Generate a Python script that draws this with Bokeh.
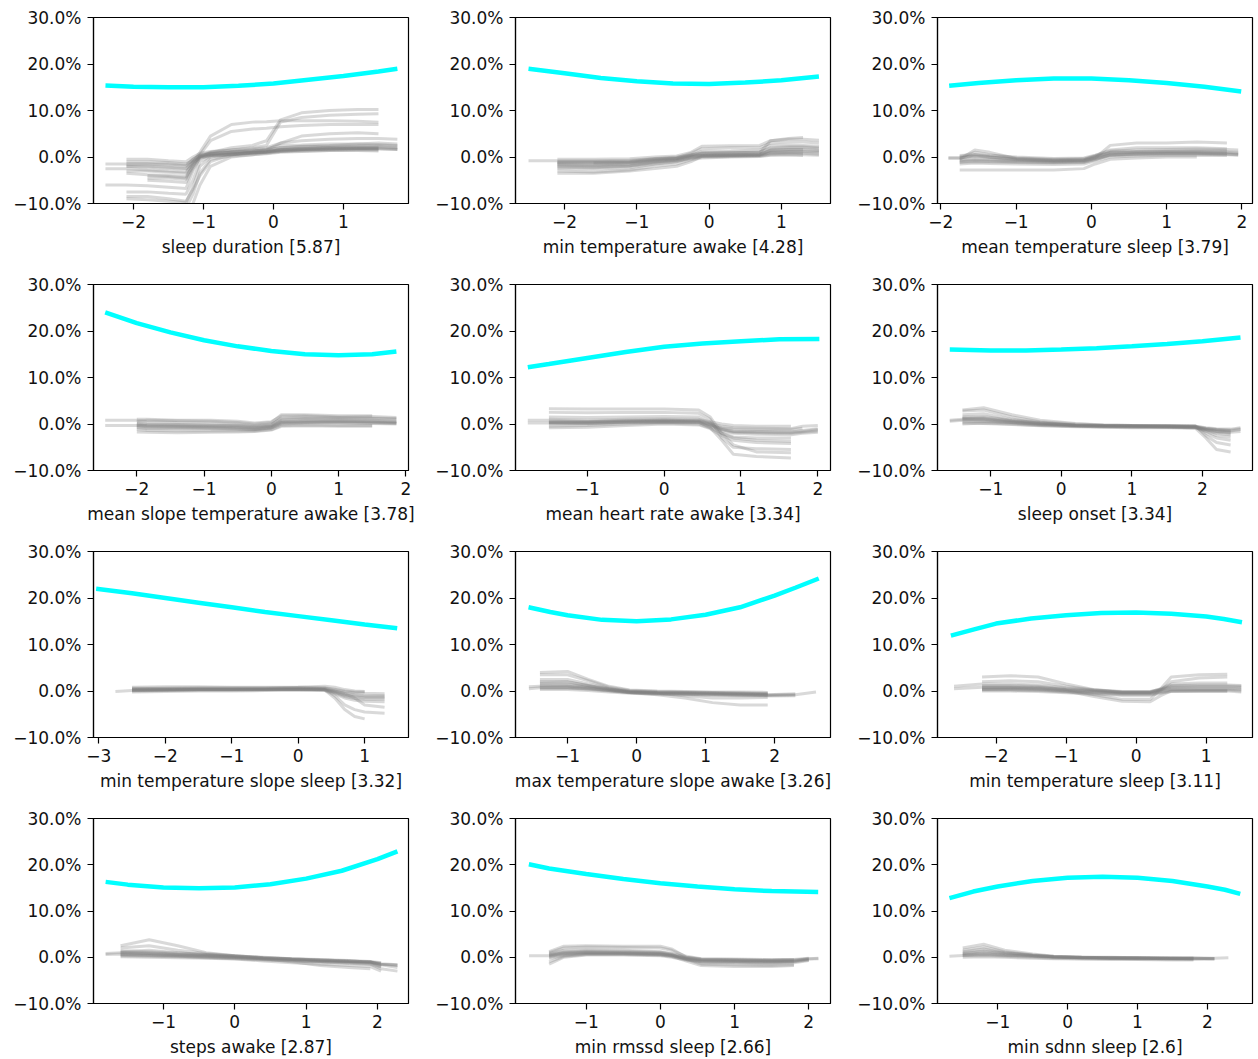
import numpy as np
from bokeh.plotting import figure
from bokeh.layouts import gridplot
from bokeh.models import Range1d, FixedTicker, CustomJSTickFormatter
from bokeh.embed import file_html
from bokeh.resources import INLINE

nan = float("nan")

# ---------------- data ----------------
FEATURES = ["sleep duration", "min temperature awake", "mean temperature sleep",
            "mean slope temperature awake", "mean heart rate awake", "sleep onset",
            "min temperature slope sleep", "max temperature slope awake", "min temperature sleep",
            "steps awake", "min rmssd sleep", "min sdnn sleep"]
IMPORTANCE = ["5.87", "4.28", "3.79", "3.78", "3.34", "3.34",
              "3.32", "3.26", "3.11", "2.87", "2.66", "2.6"]

# cyan curves (percent)
CYAN_X = [
    [-2.4, -2.0, -1.5, -1.0, -0.5, 0.0, 0.5, 1.0, 1.5, 1.77],
    [-2.5, -2.0, -1.5, -1.0, -0.5, 0.0, 0.5, 1.0, 1.52],
    [-1.89, -1.5, -1.0, -0.5, 0.0, 0.5, 1.0, 1.5, 1.99],
    [-2.47, -2.0, -1.5, -1.0, -0.5, 0.0, 0.5, 1.0, 1.5, 1.86],
    [-1.775, -1.5, -1.0, -0.5, 0.0, 0.5, 1.0, 1.5, 2.02],
    [-1.58, -1.0, -0.5, 0.0, 0.5, 1.0, 1.5, 2.0, 2.54],
    [-3.04, -2.5, -2.0, -1.5, -1.0, -0.5, 0.0, 0.5, 1.0, 1.49],
    [-1.565, -1.25, -1.0, -0.5, 0.0, 0.5, 1.0, 1.5, 2.0, 2.3, 2.64],
    [-2.645, -2.3, -2.0, -1.5, -1.0, -0.5, 0.0, 0.5, 1.0, 1.25, 1.51],
    [-1.81, -1.5, -1.0, -0.5, 0.0, 0.5, 1.0, 1.5, 2.0, 2.28],
    [-1.773, -1.5, -1.0, -0.5, 0.0, 0.5, 1.0, 1.5, 2.127],
    [-1.69, -1.35, -1.0, -0.5, 0.0, 0.5, 1.0, 1.5, 2.0, 2.25, 2.47],
]
CYAN_Y = [
    [15.4, 15.1, 15.0, 15.0, 15.3, 15.8, 16.6, 17.4, 18.4, 19.0],
    [19.0, 18.0, 17.0, 16.3, 15.8, 15.7, 16.0, 16.5, 17.3],
    [15.3, 15.9, 16.5, 16.9, 16.9, 16.5, 15.9, 15.1, 14.1],
    [24.0, 21.7, 19.7, 18.0, 16.7, 15.7, 15.0, 14.8, 15.0, 15.6],
    [12.2, 12.9, 14.2, 15.5, 16.6, 17.3, 17.8, 18.2, 18.3],
    [16.0, 15.8, 15.8, 16.0, 16.3, 16.7, 17.2, 17.8, 18.6],
    [22.0, 21.0, 20.0, 19.0, 18.0, 17.0, 16.1, 15.2, 14.3, 13.5],
    [18.0, 17.0, 16.3, 15.3, 15.0, 15.4, 16.4, 18.0, 20.5, 22.2, 24.2],
    [11.9, 13.3, 14.5, 15.6, 16.3, 16.8, 16.9, 16.6, 16.0, 15.5, 14.8],
    [16.3, 15.7, 15.1, 14.9, 15.1, 15.8, 17.0, 18.7, 21.2, 22.9],
    [20.1, 19.2, 18.0, 16.9, 16.0, 15.3, 14.7, 14.3, 14.1],
    [12.8, 14.2, 15.3, 16.5, 17.2, 17.4, 17.2, 16.5, 15.3, 14.6, 13.7],
]

# gray individual curves (percent); nan = line not present there
ICE_X = [
    [-2.4, -2.1, -1.8, -1.5, -1.25, -1.15, -1.05, -0.9, -0.6, -0.3, -0.1, 0.1, 0.4, 0.8, 1.2, 1.5, 1.77],
    [-2.5, -2.1, -1.6, -1.1, -0.75, -0.45, -0.25, -0.1, 0.3, 0.7, 0.85, 1.1, 1.3, 1.52],
    [-1.9, -1.75, -1.55, -1.35, -1.0, -0.5, -0.1, 0.05, 0.25, 0.6, 1.0, 1.4, 1.8, 1.95],
    [-2.47, -2.0, -1.85, -1.4, -0.9, -0.5, -0.25, 0.0, 0.15, 0.5, 1.0, 1.5, 1.86],
    [-1.775, -1.5, -1.0, -0.5, 0.0, 0.45, 0.6, 0.75, 0.9, 1.2, 1.65, 1.8, 2.0],
    [-1.58, -1.4, -1.1, -0.7, -0.3, 0.2, 0.6, 1.0, 1.5, 1.9, 2.05, 2.2, 2.4, 2.54],
    [-2.75, -2.5, -2.0, -1.5, -1.0, -0.5, 0.0, 0.4, 0.55, 0.7, 0.85, 1.0, 1.3],
    [-1.56, -1.4, -1.0, -0.7, -0.4, -0.1, 0.3, 0.7, 1.1, 1.5, 1.9, 2.3, 2.6],
    [-2.6, -2.2, -1.8, -1.4, -1.0, -0.6, -0.2, 0.2, 0.35, 0.5, 0.9, 1.3, 1.5],
    [-1.81, -1.6, -1.2, -0.8, -0.4, 0.0, 0.4, 0.8, 1.2, 1.6, 1.9, 2.05, 2.28],
    [-1.77, -1.5, -1.3, -1.0, -0.5, 0.0, 0.15, 0.35, 0.55, 1.0, 1.5, 1.8, 2.0, 2.13],
    [-1.69, -1.5, -1.2, -0.9, -0.5, -0.2, 0.2, 0.6, 1.0, 1.5, 1.8, 2.1, 2.3],
]
ICE_Y = [
    [  # sleep duration
        [nan, -1.0, -1.0, -1.2, -1.5, -0.8, 0.0, 0.5, 0.8, 1.0, 1.2, 1.5, 1.6, 1.7, 1.8, 1.8, 1.6],
        [nan, -2.0, -2.2, -2.4, -2.6, -1.2, -0.2, 0.3, 0.6, 0.9, 1.0, 1.3, 1.5, 1.6, 1.7, 1.7, nan],
        [-2.5, -2.5, -2.8, -3.0, -3.2, -1.5, 0.0, 0.6, 1.0, 1.3, 1.5, 2.0, 2.2, 2.3, 2.4, 2.5, 2.3],
        [nan, -3.5, -3.8, -4.0, -4.2, -2.0, 0.2, 0.8, 1.2, 1.5, 1.8, 2.5, 2.6, 2.8, 2.8, 2.7, 2.5],
        [nan, nan, -5.0, -5.2, -5.5, -2.5, -0.3, 0.3, 0.5, 0.8, 1.0, 1.2, 1.3, 1.4, 1.4, 1.3, nan],
        [-6.0, -6.0, -6.2, -6.5, -6.8, -3.0, 0.0, 0.4, 0.7, 0.9, 1.1, 1.6, 1.8, 2.0, 2.0, 2.0, 1.8],
        [nan, -7.5, -7.5, -7.8, -8.0, -5.0, -1.0, 0.2, 0.5, 0.8, 1.0, 1.4, 1.6, 1.8, 1.9, 1.9, nan],
        [nan, -9.0, -9.2, -9.5, -9.8, -6.5, -2.0, 0.0, 0.6, 1.0, 1.3, 1.7, 1.9, 2.1, 2.2, 2.2, 2.0],
        [nan, nan, -10.5, -11.0, -11.0, -8.0, -3.5, -0.5, 0.2, 0.5, 0.7, 1.0, 1.2, 1.4, 1.5, 1.5, nan],
        [-1.5, -1.5, -1.5, -1.8, -2.0, -0.5, 0.5, 3.5, 5.5, 6.0, 6.2, 6.5, 6.8, 7.0, 7.0, 7.0, nan],
        [nan, -3.0, -3.0, -3.3, -3.5, -1.0, 1.0, 4.5, 7.0, 7.5, 7.6, 7.8, 7.8, 7.8, 7.7, 7.5, nan],
        [nan, -2.0, -2.0, -2.2, -2.5, -1.0, 0.5, 1.0, 1.5, 2.0, 2.5, 7.5, 8.5, 9.0, 9.2, 9.3, nan],
        [nan, nan, -4.5, -4.5, -4.8, -2.0, 0.0, 1.0, 2.0, 2.5, 3.5, 8.0, 9.5, 10.0, 10.2, 10.2, nan],
        [nan, -0.5, -0.5, -0.8, -1.0, 0.0, 0.8, 1.2, 1.5, 1.8, 2.0, 3.0, 3.5, 3.8, 4.0, 4.0, 3.8],
        [nan, nan, -4.0, -4.2, -4.5, -1.5, 0.2, 0.7, 1.0, 1.2, 1.5, 3.0, 4.5, 5.0, 5.2, 5.0, nan],
        [nan, -8.5, -8.5, -9.0, -9.5, -7.0, -4.0, -1.0, 0.5, 1.0, 1.2, 1.5, 1.8, 2.0, 2.0, 2.0, nan],
        [nan, nan, -12.0, -12.0, -12.0, -10.0, -6.0, -2.0, 0.0, 0.5, 0.8, 1.2, 1.5, 1.7, 1.8, 1.8, 1.6],
        [nan, -1.5, -1.5, -1.5, -1.8, -0.5, 0.3, 0.7, 1.0, 1.3, 1.5, 2.0, 2.3, 2.5, 2.8, 3.0, 2.8],
    ],
    [  # min temperature awake
        [-0.8, -0.8, -0.8, -0.7, -0.3, 0.0, 0.5, 0.8, 0.9, 1.0, 1.8, 2.0, 2.0, 1.8],
        [nan, -1.2, -1.2, -1.1, -0.6, -0.3, 0.2, 0.5, 0.6, 0.7, 1.2, 1.3, 1.3, 1.2],
        [nan, -1.6, -1.7, -1.5, -0.9, -0.6, 0.0, 0.3, 0.4, 0.5, 1.0, 1.1, 1.1, 1.0],
        [nan, -2.0, -2.1, -1.9, -1.2, -0.8, -0.2, 0.1, 0.2, 0.3, 0.7, 0.8, 0.8, 0.6],
        [nan, -2.5, -2.6, -2.3, -1.5, -1.0, -0.4, 0.0, 0.1, 0.2, 0.5, 0.6, 0.5, 0.4],
        [nan, -3.0, -3.2, -2.8, -2.0, -1.5, -0.6, -0.2, 0.0, 0.1, 0.4, 0.4, 0.3, nan],
        [nan, -3.5, -3.5, -3.0, -2.5, -2.0, -1.0, 0.2, 0.3, 0.4, 1.5, 1.6, 1.6, nan],
        [nan, -1.0, -1.0, -0.9, -0.4, -0.2, 0.8, 1.8, 2.0, 2.0, 3.0, 3.2, 3.2, 3.0],
        [nan, -1.4, -1.5, -1.3, -0.8, -0.4, 0.4, 1.2, 1.3, 1.5, 2.5, 2.6, 2.5, 2.3],
        [nan, nan, -1.3, -1.2, -0.7, -0.4, 0.3, 0.7, 0.8, 0.9, 3.5, 4.0, 4.2, nan],
        [nan, -1.8, -1.9, -1.7, -1.0, -0.7, 0.1, 0.4, 0.5, 0.6, 1.4, 1.6, 1.6, 1.4],
        [nan, -2.2, -2.3, -2.0, -1.4, -0.9, -0.1, 0.2, 0.3, 0.4, 0.9, 1.0, 0.9, nan],
        [nan, -0.5, -0.5, -0.4, 0.0, 0.2, 1.0, 2.3, 2.4, 2.5, 3.5, 3.8, 3.8, 3.6],
        [nan, -1.1, -1.1, -1.0, -0.5, -0.2, 0.4, 0.9, 1.0, 1.1, 2.0, 2.2, 2.2, 2.0],
    ],
    [  # mean temperature sleep
        [-0.3, -0.3, 0.5, 0.0, -0.5, -0.8, -0.7, 0.0, 0.8, 1.0, 1.0, 1.1, 1.0, 0.8],
        [nan, -0.5, 1.5, 1.0, -0.3, -0.6, -0.5, 0.2, 1.0, 1.2, 1.3, 1.4, 1.3, nan],
        [nan, -1.0, -0.8, -0.9, -1.0, -1.2, -1.1, -0.5, 0.3, 0.5, 0.6, 0.6, 0.5, 0.4],
        [nan, -1.5, -1.3, -1.4, -1.5, -1.6, -1.5, -0.8, 0.0, 0.2, 0.3, 0.4, 0.3, nan],
        [nan, 0.3, 0.5, 0.3, 0.0, -0.3, -0.2, 0.4, 1.3, 1.5, 1.6, 1.7, 1.6, 1.5],
        [nan, -0.2, 0.2, -0.1, -0.6, -0.9, -0.8, -0.2, 0.6, 0.8, 0.9, 0.9, 0.8, nan],
        [nan, -2.8, -2.8, -2.8, -2.8, -2.8, -2.5, -1.5, -0.5, -0.2, 0.0, 0.0, nan, nan],
        [nan, -0.8, -0.6, -0.7, -0.9, -1.0, -0.9, -0.2, 2.5, 3.0, 3.0, 3.2, 3.0, nan],
        [nan, -1.2, -1.0, -1.1, -1.2, -1.3, -1.2, -0.6, 0.5, 0.7, 0.8, 0.8, 0.7, 0.6],
        [nan, 0.0, 1.0, 0.5, -0.2, -0.5, -0.4, 0.3, 1.5, 2.0, 2.0, 2.0, 1.8, nan],
        [nan, -0.6, -0.4, -0.5, -0.7, -0.9, -0.8, -0.3, 0.4, 0.6, 0.7, 0.7, 0.6, 0.5],
        [-0.1, -0.1, 0.2, 0.0, -0.4, -0.7, -0.6, 0.1, 1.0, 1.1, 1.2, 1.2, 1.1, 1.0],
    ],
    [  # mean slope temperature awake
        [0.8, 0.8, 0.5, 0.3, 0.2, 0.0, -0.3, 0.0, 1.0, 1.2, 1.2, 1.2, 1.0],
        [nan, 0.0, -0.3, -0.4, -0.5, -0.6, -0.8, -0.5, 0.5, 0.7, 0.7, 0.6, 0.5],
        [nan, -0.4, -0.6, -0.7, -0.8, -0.9, -1.1, -0.7, 0.3, 0.4, 0.5, 0.4, 0.2],
        [nan, -0.8, -1.0, -1.0, -1.1, -1.2, -1.3, -0.9, 0.0, 0.2, 0.2, 0.1, 0.0],
        [nan, -1.2, -1.4, -1.5, -1.5, -1.5, -1.5, -1.2, -0.3, -0.2, -0.3, -0.3, nan],
        [-0.3, -0.3, -0.1, -0.2, -0.3, -0.4, -0.6, -0.3, 0.8, 1.0, 0.9, 0.8, 0.6],
        [nan, 0.5, 0.8, 0.7, 0.6, 0.3, 0.0, 0.3, 2.0, 2.0, 1.8, 1.8, nan],
        [nan, -0.2, -0.4, -0.5, -0.6, -0.7, -0.9, -0.6, 0.4, 0.5, 0.6, 0.5, 0.3],
        [nan, -1.7, -1.8, -1.9, -1.8, -1.7, -1.6, -1.3, -0.5, -0.4, -0.5, -0.5, nan],
        [nan, 0.2, 0.0, -0.1, -0.2, -0.3, -0.5, -0.2, 1.3, 1.5, 1.4, 1.3, 1.2],
        [nan, -0.6, -0.8, -0.8, -0.9, -1.0, -1.2, -0.8, 0.2, 0.3, 0.3, 0.2, 0.1],
        [nan, 1.0, 1.0, 0.8, 0.8, 0.6, 0.2, 0.5, 1.7, 1.8, 1.5, 1.6, 1.4],
    ],
    [  # mean heart rate awake
        [0.8, 0.8, 0.6, 0.8, 0.9, 0.8, 0.2, -0.5, -0.8, -0.9, -1.0, -0.5, -0.3],
        [nan, 0.3, 0.3, 0.5, 0.6, 0.5, -0.2, -1.0, -1.5, -1.6, -1.7, -1.4, -1.0],
        [nan, 0.0, 0.0, 0.3, 0.4, 0.3, -0.5, -1.5, -2.0, -2.2, -2.3, -2.0, -1.8],
        [nan, -0.5, -0.3, 0.0, 0.2, 0.0, -0.8, -2.0, -2.8, -3.0, -3.0, nan, nan],
        [nan, 0.5, 0.5, 0.7, 0.8, 0.7, 0.0, -0.8, -1.0, -1.2, -1.2, -0.9, nan],
        [nan, 1.0, 0.8, 1.0, 1.1, 1.0, 0.5, 0.0, -0.3, -0.5, -0.5, nan, nan],
        [nan, 3.3, 3.2, 3.2, 3.2, 3.0, 1.5, -2.0, -3.0, -3.5, -3.7, nan, nan],
        [nan, 2.5, 2.4, 2.5, 2.5, 2.3, 1.0, -3.0, -5.0, -5.3, -5.5, nan, nan],
        [nan, 0.2, 0.1, 0.4, 0.5, 0.4, -0.8, -3.5, -6.5, -7.0, -7.3, nan, nan],
        [nan, -0.8, -0.7, -0.3, 0.0, -0.2, -1.0, -2.5, -3.5, -4.0, -4.2, nan, nan],
        [nan, 0.4, 0.4, 0.6, 0.7, 0.6, -0.1, -1.2, -1.8, -1.9, -2.0, -1.8, -1.5],
        [0.2, 0.2, 0.2, 0.4, 0.5, 0.4, -0.3, -1.2, -1.6, -1.7, -1.8, -1.6, -1.2],
        [nan, 1.5, 1.4, 1.5, 1.6, 1.5, 0.3, -2.0, -4.5, -6.0, -6.2, nan, nan],
    ],
    [  # sleep onset
        [0.8, 1.0, 0.9, 0.4, 0.0, -0.3, -0.4, -0.4, -0.5, -0.6, -1.0, -1.3, -1.5, -1.2],
        [nan, 1.3, 1.2, 0.6, 0.1, -0.2, -0.3, -0.3, -0.4, -0.5, -0.9, -1.2, -1.4, nan],
        [nan, 0.5, 0.5, 0.2, -0.2, -0.5, -0.6, -0.6, -0.7, -0.8, -1.5, -2.0, -2.3, nan],
        [nan, 2.0, 2.2, 1.0, 0.3, -0.2, -0.4, -0.5, -0.6, -0.7, -2.0, -3.0, -3.5, nan],
        [nan, 2.8, 3.0, 1.5, 0.5, 0.0, -0.2, -0.3, -0.3, -0.4, -2.5, -4.0, -4.5, nan],
        [nan, 0.2, 0.1, -0.1, -0.4, -0.6, -0.7, -0.8, -0.8, -0.9, -3.0, -5.5, -6.0, nan],
        [nan, 1.5, 1.6, 0.8, 0.2, -0.3, -0.5, -0.5, -0.6, -0.7, -1.2, -1.6, -1.8, -1.6],
        [0.6, 0.8, 0.7, 0.3, -0.1, -0.4, -0.5, -0.6, -0.6, -0.7, -1.0, -1.2, -1.3, -1.0],
        [nan, 1.0, 1.0, 0.5, 0.0, -0.3, -0.4, -0.5, -0.5, -0.6, -1.6, -2.5, -2.8, nan],
        [nan, 1.2, 1.4, 0.7, 0.2, -0.2, -0.4, -0.4, -0.5, -0.5, -0.8, -1.0, -1.1, -0.8],
        [nan, 3.0, 3.5, 2.0, 0.8, 0.1, -0.2, -0.3, -0.4, -0.5, -1.3, -1.8, -2.0, nan],
        [nan, 0.0, 0.2, 0.0, -0.3, -0.5, -0.6, -0.7, -0.7, -0.8, -1.2, -1.5, -1.7, nan],
    ],
    [  # min temperature slope sleep
        [nan, 0.3, 0.3, 0.4, 0.4, 0.4, 0.5, 0.4, 0.0, -0.5, -0.8, -1.0, -1.0],
        [nan, 0.0, 0.1, 0.2, 0.2, 0.2, 0.3, 0.2, -0.3, -0.9, -1.3, -1.5, -1.5],
        [nan, 0.5, 0.6, 0.6, 0.6, 0.6, 0.7, 0.6, 0.2, -0.2, -0.4, -0.5, -0.6],
        [nan, -0.2, -0.1, 0.0, 0.0, 0.1, 0.2, 0.1, -0.6, -1.5, -2.0, -2.2, -2.3],
        [nan, 0.8, 0.9, 0.9, 0.8, 0.8, 0.8, 0.7, 0.4, 0.0, -0.2, -0.2, nan],
        [nan, 0.2, 0.3, 0.3, 0.3, 0.3, 0.4, 0.3, -1.0, -3.0, -4.0, -4.5, -4.8],
        [nan, 0.1, 0.2, 0.2, 0.2, 0.3, 0.3, 0.2, -1.5, -4.0, -5.5, -6.0, nan],
        [-0.1, 0.1, 0.2, 0.3, 0.3, 0.3, 0.4, 0.3, -0.2, -0.8, -1.0, -1.2, -1.2],
        [nan, 0.4, 0.4, 0.5, 0.5, 0.5, 0.6, 0.5, 0.0, -0.6, -1.5, -3.0, -3.5],
        [nan, 0.6, 0.6, 0.7, 0.7, 0.7, 0.8, 1.0, 0.8, 0.3, 0.0, -0.1, nan],
        [nan, 0.2, 0.2, 0.3, 0.3, 0.4, 0.4, 0.3, -0.4, -1.2, -1.6, -1.8, -1.8],
    ],
    [  # max temperature slope awake
        [0.9, 1.0, 1.0, 0.7, 0.2, -0.2, -0.4, -0.5, -0.6, -0.7, -0.8, -0.6, nan],
        [nan, 1.5, 1.4, 1.0, 0.4, -0.1, -0.3, -0.4, -0.5, -0.6, -0.7, nan, nan],
        [nan, 2.5, 2.5, 1.5, 0.6, 0.0, -0.2, -0.3, -0.4, -0.5, -0.6, nan, nan],
        [nan, 3.5, 3.5, 2.2, 0.8, 0.1, -0.1, -0.2, -0.3, -0.4, -0.5, nan, nan],
        [nan, 0.6, 0.6, 0.4, 0.0, -0.4, -0.6, -0.7, -0.8, -0.9, -1.0, nan, nan],
        [nan, 0.3, 0.3, 0.1, -0.2, -0.5, -0.7, -0.8, -0.9, -1.0, -1.1, -1.0, nan],
        [nan, 1.2, 1.2, 0.8, 0.3, -0.3, -0.8, -1.5, -2.5, -3.0, -3.0, nan, nan],
        [nan, 2.0, 2.0, 1.2, 0.5, -0.2, -0.5, -1.0, -1.5, -1.5, -1.4, nan, nan],
        [nan, 0.8, 0.8, 0.6, 0.1, -0.3, -0.5, -0.6, -0.7, -0.8, -0.9, -0.8, -0.2],
        [nan, 1.8, 1.9, 1.2, 0.4, -0.1, -0.3, -0.4, -0.5, -0.6, -0.7, nan, nan],
        [nan, 4.0, 4.2, 2.5, 1.0, 0.2, 0.0, -0.1, -0.2, -0.2, -0.3, nan, nan],
        [0.5, 0.7, 0.7, 0.5, 0.1, -0.3, -0.5, -0.6, -0.7, -0.8, -0.9, -0.8, nan],
    ],
    [  # min temperature sleep
        [0.5, 0.8, 0.8, 0.7, 0.3, 0.0, -0.3, -0.3, 0.2, 0.6, 0.6, 0.6, 0.5],
        [nan, 0.3, 0.3, 0.2, -0.1, -0.4, -0.6, -0.6, -0.2, 0.2, 0.2, 0.2, 0.0],
        [nan, 1.2, 1.2, 1.0, 0.5, 0.1, -0.2, -0.2, 0.3, 0.8, 0.9, 0.9, 0.8],
        [nan, 0.0, 0.0, -0.1, -0.4, -0.7, -0.9, -0.9, -0.5, -0.1, -0.1, -0.1, nan],
        [nan, 3.0, 3.3, 3.0, 1.5, 0.3, -0.2, -0.2, 0.5, 1.5, 1.7, 1.7, nan],
        [nan, 2.0, 2.2, 2.0, 1.0, 0.2, -0.3, -0.3, 0.3, 1.0, 1.1, 1.1, 1.0],
        [nan, 0.6, 0.6, 0.5, 0.0, -1.2, -2.2, -2.3, -1.0, 0.0, 0.1, 0.1, nan],
        [nan, 0.9, 0.9, 0.8, 0.3, -0.8, -1.8, -1.8, 0.5, 3.0, 3.5, 3.6, nan],
        [nan, 0.4, 0.5, 0.4, 0.1, -0.2, -0.5, -0.5, -0.1, 0.4, 0.4, 0.4, 0.3],
        [1.0, 1.5, 1.5, 1.3, 0.7, 0.2, -0.1, -0.1, 0.4, 1.2, 1.3, 1.3, 1.2],
        [nan, 0.2, 0.2, 0.1, -0.2, -0.5, -0.8, -0.8, -0.3, 0.0, 0.0, 0.0, -0.2],
        [nan, 0.7, 0.7, 0.6, 0.2, -0.1, -0.4, -0.4, 0.1, 2.0, 2.8, 3.0, nan],
    ],
    [  # steps awake
        [0.8, 1.0, 0.8, 0.6, 0.4, 0.1, -0.2, -0.5, -0.7, -0.9, -1.0, -1.5, -1.8],
        [nan, 1.4, 1.2, 0.9, 0.6, 0.3, 0.0, -0.3, -0.5, -0.7, -0.9, -1.2, nan],
        [nan, 0.6, 0.5, 0.3, 0.1, -0.1, -0.4, -0.6, -0.9, -1.1, -1.3, -2.0, nan],
        [nan, 0.3, 0.2, 0.1, -0.1, -0.3, -0.6, -0.8, -1.0, -1.3, -1.5, -2.5, -3.0],
        [nan, 2.5, 3.8, 2.5, 1.0, 0.3, -0.1, -0.4, -0.6, -0.8, -1.0, -1.3, nan],
        [nan, 2.0, 2.5, 1.5, 0.8, 0.3, -0.1, -0.3, -0.6, -0.8, -1.0, -1.8, nan],
        [nan, 1.0, 1.0, 0.7, 0.5, 0.2, -0.1, -0.4, -0.6, -0.8, -1.0, -1.6, -2.2],
        [nan, 0.1, 0.0, -0.1, -0.2, -0.4, -0.8, -1.2, -1.5, -1.8, -2.0, -3.0, nan],
        [nan, 1.2, 1.5, 1.0, 0.6, 0.2, -0.2, -0.5, -0.8, -1.0, -1.2, -1.5, -1.7],
        [nan, 0.5, 0.4, 0.2, 0.0, -0.2, -0.5, -0.7, -1.0, -1.2, -1.4, -2.2, nan],
        [nan, 0.9, 0.8, 0.5, 0.3, 0.0, -0.3, -1.0, -1.8, -2.2, -2.5, nan, nan],
        [0.6, 0.7, 0.6, 0.4, 0.2, 0.0, -0.3, -0.5, -0.8, -1.0, -1.1, -1.4, -1.6],
    ],
    [  # min rmssd sleep
        [0.3, 0.3, 0.8, 1.0, 0.9, 0.7, 0.5, -0.2, -0.6, -0.7, -0.8, -0.7, -0.3, -0.2],
        [nan, 0.0, 0.5, 0.8, 0.8, 0.6, 0.3, -0.4, -0.8, -0.9, -1.0, -0.9, -0.5, nan],
        [nan, -1.5, 0.0, 0.5, 0.5, 0.3, 0.0, -0.6, -1.0, -1.1, -1.2, -1.0, nan, nan],
        [nan, 0.8, 1.5, 1.6, 1.5, 1.2, 0.8, 0.0, -0.4, -0.5, -0.6, -0.5, -0.2, nan],
        [nan, 1.0, 2.0, 2.2, 2.1, 2.0, 1.5, 0.2, -0.3, -0.4, -0.5, -0.5, nan, nan],
        [nan, 0.5, 1.0, 1.2, 1.1, 1.0, 0.6, -0.5, -1.5, -1.7, -1.8, -1.6, nan, nan],
        [nan, -1.0, 0.2, 0.6, 0.6, 0.5, 0.2, -0.8, -1.8, -2.0, -2.0, -1.8, nan, nan],
        [nan, 0.2, 0.7, 0.9, 0.8, 0.7, 0.4, -0.3, -0.7, -0.8, -0.9, -0.8, -0.4, -0.3],
        [nan, 0.6, 1.2, 1.4, 1.3, 1.1, 0.7, -0.1, -0.5, -0.6, -0.7, -0.6, -0.3, nan],
        [nan, -0.3, 0.3, 0.7, 0.7, 0.5, 0.2, -0.5, -0.9, -1.0, -1.1, -1.0, -0.6, nan],
        [nan, 1.2, 2.4, 2.5, 2.4, 2.4, 1.8, 0.0, -0.5, -0.6, -0.7, -0.6, nan, nan],
        [nan, 0.4, 0.9, 1.1, 1.0, 0.8, 0.5, -0.3, -1.2, -1.3, -1.4, -1.2, -0.7, nan],
    ],
    [  # min sdnn sleep
        [0.2, 0.4, 0.6, 0.4, 0.2, 0.0, -0.1, -0.1, -0.2, -0.2, -0.2, -0.3, nan],
        [nan, 0.6, 0.9, 0.6, 0.3, 0.1, 0.0, 0.0, -0.1, -0.1, -0.1, -0.2, nan],
        [nan, 1.2, 1.8, 1.0, 0.5, 0.2, 0.0, -0.1, -0.1, -0.2, -0.2, nan, nan],
        [nan, 2.0, 2.8, 1.5, 0.7, 0.2, 0.0, -0.1, -0.1, -0.2, -0.3, nan, nan],
        [nan, 0.3, 0.4, 0.2, 0.0, -0.2, -0.3, -0.3, -0.4, -0.4, -0.4, -0.4, nan],
        [nan, 0.8, 1.2, 0.8, 0.4, 0.1, -0.1, -0.2, -0.2, -0.3, -0.3, -0.3, nan],
        [nan, 1.5, 2.2, 1.2, 0.5, 0.1, -0.1, -0.2, -0.3, -0.3, -0.4, nan, nan],
        [nan, 0.0, 0.1, 0.0, -0.2, -0.3, -0.4, -0.5, -0.5, -0.6, -0.6, nan, nan],
        [nan, 0.5, 0.7, 0.5, 0.2, 0.0, -0.1, -0.2, -0.2, -0.3, -0.3, -0.2, -0.1],
        [nan, 0.9, 1.4, 0.9, 0.4, 0.1, 0.0, -0.1, -0.1, -0.2, -0.2, nan, nan],
    ],
]

Y_TICKS = [-10, 0, 10, 20, 30]

# ---------------- layout / style ----------------
X_RANGES = [(-2.571, 1.929), (-2.68, 1.68), (-2.045, 2.14),
            (-2.644, 2.04), (-1.935, 2.165), (-1.754, 2.71),
            (-3.08, 1.66), (-1.754, 2.81), (-2.836, 1.66),
            (-1.98, 2.435), (-1.953, 2.293), (-1.861, 2.645)]
FONT = "DejaVu Sans"
FS = "17px"

yfmt_code = "return (tick < 0 ? '\\u2212' : '') + Math.abs(tick).toFixed(1) + '%';"
xfmt_code = "return (tick < 0 ? '\\u2212' : '') + Math.abs(tick).toFixed(0);"

rows = []
for r in range(4):
    row = []
    for c in range(3):
        i = r * 3 + c
        last_col = (c == 2)
        last_row = (r == 3)
        w = 414 if last_col else 422
        h = 258 if last_row else 267
        p = figure(width=w, height=h, output_backend="svg", toolbar_location=None,
                   x_range=Range1d(*X_RANGES[i]), y_range=Range1d(-10, 30),
                   min_border_left=93, min_border_right=(6 if last_col else 14),
                   min_border_top=17, min_border_bottom=(55 if last_row else 64),
                   background_fill_color="white", border_fill_color="white")
        p.outline_line_color = "black"
        p.outline_line_width = 1.2
        p.grid.visible = False
        lo, hi = X_RANGES[i]
        xt = [t for t in range(-4, 5) if lo <= t <= hi]
        p.xaxis.ticker = FixedTicker(ticks=xt)
        p.yaxis.ticker = FixedTicker(ticks=Y_TICKS)
        p.yaxis.formatter = CustomJSTickFormatter(code=yfmt_code)
        p.xaxis.formatter = CustomJSTickFormatter(code=xfmt_code)
        for ax in (p.xaxis[0], p.yaxis[0]):
            ax.axis_line_color = "black"
            ax.axis_line_width = 1.2
            ax.major_tick_line_color = "black"
            ax.major_tick_line_width = 1.2
            ax.major_tick_out = 6
            ax.major_tick_in = 0
            ax.minor_tick_line_color = None
            ax.major_label_text_font = FONT
            ax.major_label_text_font_size = FS
            ax.major_label_text_color = "#111111"
        p.yaxis.major_label_standoff = 6
        p.xaxis.major_label_standoff = 5
        p.xaxis.axis_label = f"{FEATURES[i]} [{IMPORTANCE[i]}]"
        p.xaxis.axis_label_text_font = FONT
        p.xaxis.axis_label_text_font_size = FS
        p.xaxis.axis_label_text_font_style = "normal"
        p.xaxis.axis_label_text_color = "#111111"
        p.xaxis.axis_label_standoff = 6

        gx = np.array(ICE_X[i], dtype=float)
        for ys in ICE_Y[i]:
            p.line(gx, np.array(ys, dtype=float), line_color="#808080",
                   line_alpha=0.3, line_width=3)
        p.line(np.array(CYAN_X[i], dtype=float), np.array(CYAN_Y[i], dtype=float),
               line_color="#00ffff", line_width=4.5)
        row.append(p)
    rows.append(row)

grid = gridplot(rows, toolbar_location=None)
open("out.html", "w").write(file_html(grid, INLINE))
